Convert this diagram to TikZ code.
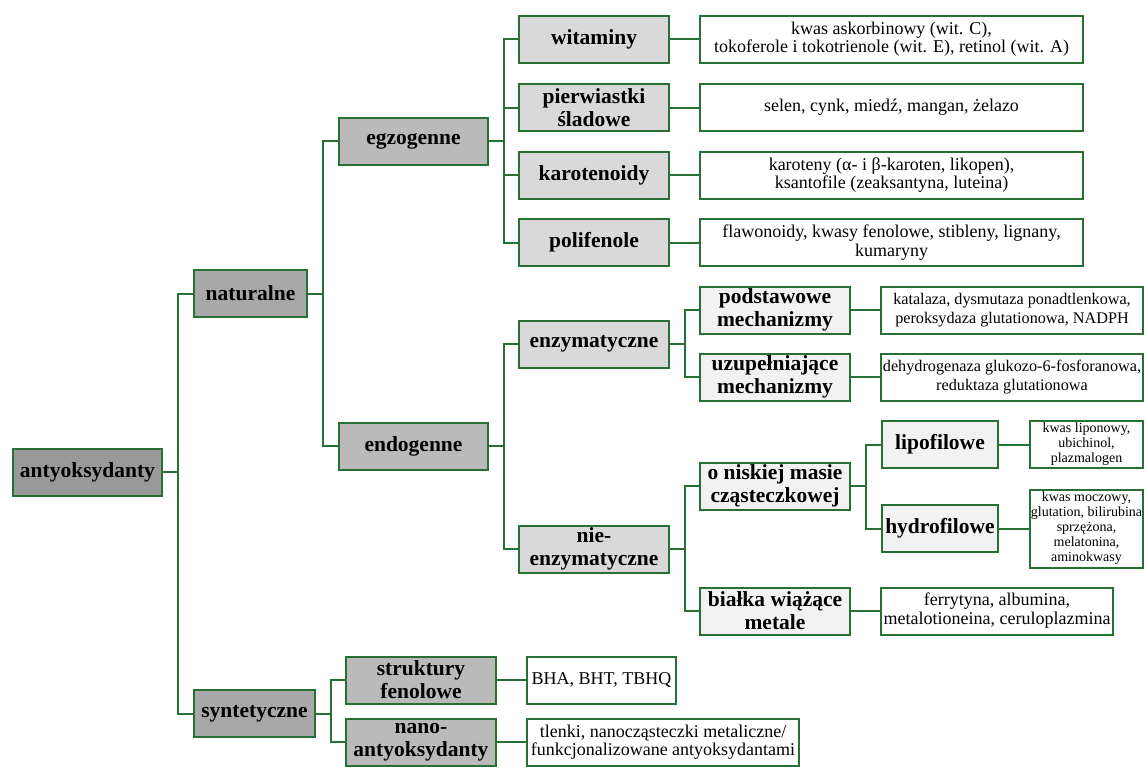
\documentclass[tikz,border=0pt]{standalone}
\usepackage{fontspec}
\setmainfont{Liberation Serif}
\usetikzlibrary{positioning}
\definecolor{boxGreen}{RGB}{38,112,52}
\tikzset{%
	% Specifications for style of nodes:
	base/.style = {rectangle, draw=boxGreen, line width=1pt,
		minimum height=23.5pt, inner xsep=1pt, inner ysep=1pt,
		text centered, align=center},
	category/.style = {base, font=\fontsize{10.75pt}{11.5pt}\selectfont\bfseries},
	rootBox/.style = {category, fill=black!40},
	levelOne/.style = {category, fill=black!34},
	levelTwo/.style = {category, fill=black!27},
	levelThree/.style = {category, fill=black!15},
	levelFour/.style = {category, fill=black!5},
	leaf/.style = {base, fill=white, font=\fontsize{9pt}{9.3pt}\selectfont},
	leafMid/.style = {base, fill=white, inner xsep=0.2pt, font=\fontsize{8.1pt}{9.5pt}\selectfont},
	leafSmall/.style = {base, fill=white, inner xsep=0.3pt, font=\fontsize{7pt}{7.5pt}\selectfont},
	link/.style = {draw=boxGreen, line width=1pt}
}

\begin{document}
\begin{tikzpicture}[x=0.5pt, y=-0.5pt]
		\useasboundingbox (0,0) rectangle (1146,767);
		% root and first level
		\node (antyoksydanty) [rootBox, minimum width=74.5pt] at (87.5,472) {antyoksydanty};
		\node (naturalne) [levelOne, minimum width=56.5pt] at (250.5,293.5) {naturalne};
		\node (syntetyczne) [levelOne, minimum width=60.5pt] at (254.5,713.5) {syntetyczne};
		
		% naturalne branch
		\node (egzogenne) [levelTwo, minimum width=74.5pt] at (413.5,141) {egzogenne};
		\node (endogenne) [levelTwo, minimum width=74.5pt] at (413.5,446) {endogenne};
		
		\node (witaminy) [levelThree, minimum width=75pt] at (594,39) {witaminy};
		\node (pierwiastki) [levelThree, minimum width=75pt] at (594,107.5) {pierwiastki\\śladowe};
		\node (karotenoidy) [levelThree, minimum width=75pt] at (594,175) {karotenoidy};
		\node (polifenole) [levelThree, minimum width=75pt] at (594,242.5) {polifenole};
		\node (witaminyList) [leaf, minimum width=191.5pt, right=14.5pt of witaminy] {kwas askorbinowy (wit. C),\\tokoferole i tokotrienole (wit. E), retinol (wit. A)};
		\node (pierwiastkiList) [leaf, minimum width=191.5pt, right=14.5pt of pierwiastki] {selen, cynk, miedź, mangan, żelazo};
		\node (karotenoidyList) [leaf, minimum width=191.5pt, right=14.5pt of karotenoidy] {karoteny (α- i β-karoten, likopen),\\ksantofile (zeaksantyna, luteina)};
		\node (polifenoleList) [leaf, minimum width=191.5pt, right=14.5pt of polifenole] {flawonoidy, kwasy fenolowe, stibleny, lignany,\\kumaryny};
		
		\node (enzymatyczne) [levelThree, minimum width=75pt] at (594,344) {enzymatyczne};
		\node (nieEnzymatyczne) [levelThree, minimum width=75pt] at (594,549) {nie-\\enzymatyczne};
		\node (podstawowe) [levelFour, minimum width=75pt] at (775,310) {podstawowe\\mechanizmy};
		\node (uzupelniajace) [levelFour, minimum width=75pt] at (775,377) {uzupełniające\\mechanizmy};
		\node (podstawoweList) [leafMid, minimum width=131pt, right=14.5pt of podstawowe] {katalaza, dysmutaza ponadtlenkowa,\\peroksydaza glutationowa, NADPH};
		\node (uzupelniajaceList) [leafMid, minimum width=131pt, right=14.5pt of uzupelniajace] {dehydrogenaza glukozo-6-fosforanowa,\\reduktaza glutationowa};
		
		\node (niskaMasa) [levelFour, minimum width=75pt] at (775,486) {o niskiej masie\\cząsteczkowej};
		\node (bialka) [levelFour, minimum width=75pt] at (775,611) {białka wiążące\\metale};
		\node (bialkaList) [leaf, minimum width=116pt, font=\fontsize{9pt}{9.5pt}\selectfont, right=14.5pt of bialka] {ferrytyna, albumina,\\metalotioneina, ceruloplazmina};
		\node (lipofilowe) [levelFour, minimum width=58pt] at (940,444.5) {lipofilowe};
		\node (hydrofilowe) [levelFour, minimum width=58pt] at (940,528.5) {hydrofilowe};
		\node (lipofiloweList) [leafSmall, minimum width=56.5pt, right=15pt of lipofilowe] {kwas liponowy,\\ubichinol,\\plazmalogen};
		\node (hydrofiloweList) [leafSmall, minimum width=56.5pt, minimum height=39pt, right=15pt of hydrofilowe] {kwas moczowy,\\glutation, bilirubina\\sprzężona,\\melatonina,\\aminokwasy};
		
		% syntetyczne branch
		\node (struktury) [levelTwo, minimum width=75pt] at (421,680) {struktury\\fenolowe};
		\node (nano) [levelTwo, minimum width=75pt] at (421,742) {nano-\\antyoksydanty};
		\node (strukturyList) [leaf, minimum width=74.5pt, right=14.5pt of struktury] {BHA, BHT, TBHQ};
		\node (nanoList) [leaf, minimum width=136pt, font=\fontsize{9pt}{8.8pt}\selectfont, right=14.5pt of nano] {tlenki, nanocząsteczki metaliczne/\\funkcjonalizowane antyoksydantami};
		
		% tree connectors
		\draw[link] (antyoksydanty.east) -- ++(7.5pt,0pt) |- (naturalne.west);
		\draw[link] (antyoksydanty.east) -- ++(7.5pt,0pt) |- (syntetyczne.west);
		\draw[link] (naturalne.east) -- ++(7.5pt,0pt) |- (egzogenne.west);
		\draw[link] (naturalne.east) -- ++(7.5pt,0pt) |- (endogenne.west);
		\draw[link] (egzogenne.east) -- ++(7.25pt,0pt) |- (witaminy.west);
		\draw[link] (egzogenne.east) -- ++(7.25pt,0pt) |- (pierwiastki.west);
		\draw[link] (egzogenne.east) -- ++(7.25pt,0pt) |- (karotenoidy.west);
		\draw[link] (egzogenne.east) -- ++(7.25pt,0pt) |- (polifenole.west);
		\draw[link] (endogenne.east) -- ++(7.25pt,0pt) |- (enzymatyczne.west);
		\draw[link] (endogenne.east) -- ++(7.25pt,0pt) |- (nieEnzymatyczne.west);
		\draw[link] (enzymatyczne.east) -- ++(7.25pt,0pt) |- (podstawowe.west);
		\draw[link] (enzymatyczne.east) -- ++(7.25pt,0pt) |- (uzupelniajace.west);
		\draw[link] (nieEnzymatyczne.east) -- ++(7.25pt,0pt) |- (niskaMasa.west);
		\draw[link] (nieEnzymatyczne.east) -- ++(7.25pt,0pt) |- (bialka.west);
		\draw[link] (niskaMasa.east) -- ++(7.5pt,0pt) |- (lipofilowe.west);
		\draw[link] (niskaMasa.east) -- ++(7.5pt,0pt) |- (hydrofilowe.west);
		\draw[link] (syntetyczne.east) -- ++(7.25pt,0pt) |- (struktury.west);
		\draw[link] (syntetyczne.east) -- ++(7.25pt,0pt) |- (nano.west);
		
		% leaf connectors
		\draw[link] (witaminy) -- (witaminyList);
		\draw[link] (pierwiastki) -- (pierwiastkiList);
		\draw[link] (karotenoidy) -- (karotenoidyList);
		\draw[link] (polifenole) -- (polifenoleList);
		\draw[link] (podstawowe) -- (podstawoweList);
		\draw[link] (uzupelniajace) -- (uzupelniajaceList);
		\draw[link] (bialka) -- (bialkaList);
		\draw[link] (lipofilowe) -- (lipofiloweList);
		\draw[link] (hydrofilowe) -- (hydrofiloweList);
		\draw[link] (struktury) -- (strukturyList);
		\draw[link] (nano) -- (nanoList);
	\end{tikzpicture}
\end{document}
